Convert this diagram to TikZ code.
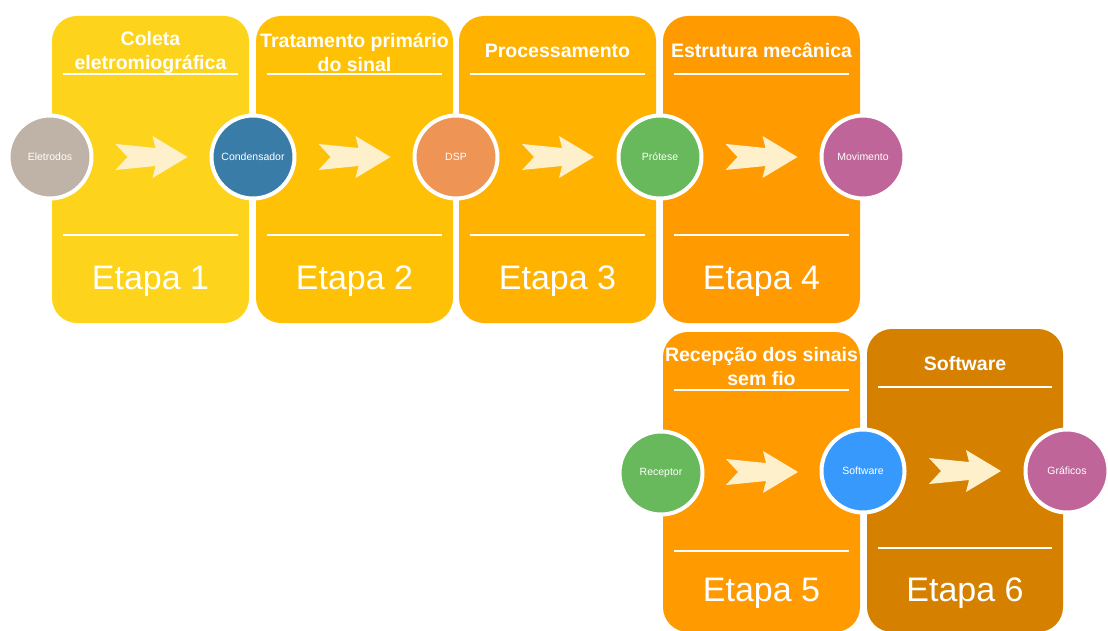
\documentclass[tikz,border=0pt]{standalone}
\usepackage{fontspec}
\setmainfont{Liberation Sans}
\usetikzlibrary{positioning, calc}
\usepackage{xcolor}

\definecolor{stageA}{HTML}{FDD31B}
\definecolor{stageB}{HTML}{FFC105}
\definecolor{stageC}{HTML}{FFB200}
\definecolor{stageD}{HTML}{FF9A00}
\definecolor{stageE}{HTML}{D68000}
\definecolor{cream}{HTML}{FFF0CC}

\begin{document}
\begin{tikzpicture}[
    x=1pt, y=-1pt,
    stage/.style={rectangle, rounded corners=25pt, minimum width=197pt, minimum height=307pt, inner sep=0pt},
    heading/.style={text=white, font=\fontsize{19.5}{24}\selectfont\bfseries, align=center, inner sep=0pt},
    etapa/.style={text=white, font=\fontsize{34}{40}\selectfont, inner sep=0pt, anchor=base},
    disc/.style={circle, draw=white, line width=4pt, minimum size=83pt, inner sep=0pt, text=white, font=\fontsize{10.5}{12}\selectfont},
    divider/.style={draw=white, line width=1.5pt},
    chevron/.pic={\fill[cream] (-36,-13) -- (4,-9) -- (1,-21) -- (36,0) -- (1,21) -- (4,9) -- (-36,13) -- (-24,0) -- cycle;}
]
\useasboundingbox (0,0) rectangle (1108,631);
\clip (0,0) rectangle (1108,631);

% Stage boxes
\node (etapa1) [stage, fill=stageA] at (150.5,169.5) {};
\node (etapa2) [stage, fill=stageB] at (354.5,169.5) {};
\node (etapa3) [stage, fill=stageC] at (557.5,169.5) {};
\node (etapa4) [stage, fill=stageD] at (761.5,169.5) {};
\node (etapa5) [stage, fill=stageD, minimum height=300pt] at (761.5,482) {};
\node (etapa6) [stage, fill=stageE, minimum height=303pt, minimum width=196pt] at (965,480.5) {};

% Dividers
\foreach \b in {etapa1,etapa2,etapa3,etapa4,etapa5,etapa6} {
    \draw [divider] ($(\b.north west)+(11,58)$) -- ($(\b.north east)+(-11,58)$);
    \draw [divider] ($(\b.north west)+(11,219)$) -- ($(\b.north east)+(-11,219)$);
}

% Headings
\node (h1) [heading] at (150.5,52.5) {Coleta\\eletromiográfica};
\node (h2) [heading] at (354.5,52.5) {Tratamento primário\\do sinal};
\node (h3) [heading] at (557.5,50.5) {Processamento};
\node (h4) [heading] at (761.5,50.5) {Estrutura mecânica};
\node (h5) [heading] at (761.5,366.5) {Recepção dos sinais\\sem fio};
\node (h6) [heading] at (965,363.5) {Software};

% Stage numbers
\node (n1) [etapa] at (150.5,289) {Etapa 1};
\node (n2) [etapa] at (354.5,289) {Etapa 2};
\node (n3) [etapa] at (557.5,289) {Etapa 3};
\node (n4) [etapa] at (761.5,289) {Etapa 4};
\node (n5) [etapa] at (761.5,601) {Etapa 5};
\node (n6) [etapa] at (965,601) {Etapa 6};

% Circles
\node (eletrodos) [disc, fill={rgb,255:red,191;green,179;blue,168}] at (50,157) {Eletrodos};
\node (condensador) [disc, fill={rgb,255:red,58;green,124;blue,168}] at (253,157) {Condensador};
\node (dsp) [disc, fill={rgb,255:red,238;green,148;blue,84}] at (456,157) {DSP};
\node (protese) [disc, fill={rgb,255:red,104;green,184;blue,92}] at (660,157) {Prótese};
\node (movimento) [disc, fill={rgb,255:red,192;green,101;blue,154}] at (863,157) {Movimento};
\node (receptor) [disc, fill={rgb,255:red,104;green,184;blue,92}] at (661,473) {Receptor};
\node (softw) [disc, fill={rgb,255:red,56;green,153;blue,252}] at (863,471) {Software};
\node (graficos) [disc, fill={rgb,255:red,192;green,101;blue,154}] at (1067,471) {Gráficos};

% Arrows
\pic at ($(eletrodos)!0.5!(condensador)$) {chevron};
\pic at ($(condensador)!0.5!(dsp)$) {chevron};
\pic at ($(dsp)!0.5!(protese)$) {chevron};
\pic at ($(protese)!0.5!(movimento)$) {chevron};
\pic at ($(receptor)!0.5!(softw)$) {chevron};
\pic at ($(softw)!0.5!(graficos)$) {chevron};

\end{tikzpicture}
\end{document}
